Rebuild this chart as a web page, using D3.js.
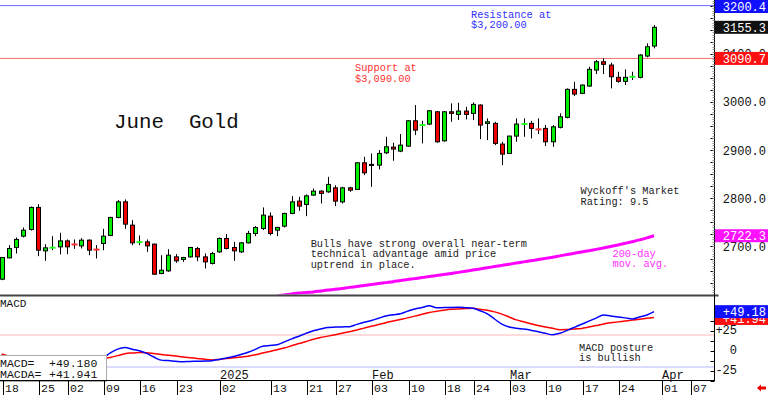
<!DOCTYPE html>
<html><head><meta charset="utf-8">
<script src="https://cdn.jsdelivr.net/npm/d3@7"></script>
<style>html,body{margin:0;padding:0;background:#fff;overflow:hidden}</style>
</head><body><svg id="c" width="768" height="395"></svg>
<script>
// ---- DATA (June Gold daily, index 0 = Nov 18 2024 ... 90 = Mar 31 2025) ----
const opens = [2632.0,2676.3,2697.9,2721.4,2735.3,2781.1,2690.9,2696.5,2699.2,2711.6,
2705.0,2701.2,2713.1,2694.3,2706.2,2722.9,2760.3,2792.7,2744.3,2708.3,
2709.6,2704.8,2643.9,2649.3,2678.4,2673.0,2678.4,2695.8,2678.4,2664.7,
2688.8,2716.6,2697.9,2688.8,2707.5,2727.0,2737.4,2763.0,2733.9,2742.2,
2768.6,2794.2,2787.3,2806.7,2815.0,2813.5,2821.8,2792.7,2821.8,2818.5,
2873.8,2868.4,2869.0,2894.6,2906.4,2898.1,2908.5,2961.1,2951.2,2954.3,
2979.8,2919.5,2979.8,2974.4,2981.3,2976.5,2993.8,2955.7,2955.7,2912.7,
2893.3,2929.3,2953.8,2955.7,2944.0,2945.3,2917.5,2947.4,2968.2,3026.4,
3018.1,3033.3,3066.5,3083.8,3076.9,3051.4,3043.0,3052.0,3051.4,3095.6,3116.4];
const highs = [2678.0,2702.7,2718.7,2739.5,2783.0,2787.9,2704.8,2721.4,2728.3,2714.6,
2714.6,2717.3,2714.6,2702.7,2736.6,2761.5,2796.3,2797.7,2754.7,2722.9,
2714.6,2706.2,2681.9,2694.4,2684.0,2678.4,2699.0,2699.2,2685.4,2688.8,
2718.7,2725.6,2709.6,2709.6,2732.4,2742.2,2781.1,2770.7,2740.8,2770.0,
2804.6,2803.1,2808.1,2820.6,2817.0,2844.7,2827.4,2823.9,2823.9,2874.5,
2886.3,2893.3,2900.2,2927.9,2915.4,2933.5,2962.6,2993.8,2961.1,2983.4,
2981.3,2981.3,2997.3,2998.5,2990.2,2999.4,2995.2,2966.1,2959.0,2917.5,
2930.0,2966.1,2966.1,2961.1,2966.1,2952.2,2952.2,2976.5,3028.5,3042.2,
3036.8,3073.4,3087.3,3090.9,3081.7,3063.0,3068.0,3063.0,3099.2,3122.0,3160.1];
const lows = [2630.0,2675.7,2685.4,2718.7,2733.0,2679.8,2670.1,2692.3,2683.4,2684.0,
2695.0,2695.8,2681.9,2675.0,2692.3,2721.5,2758.2,2736.6,2702.7,2702.7,
2688.8,2642.0,2642.4,2647.2,2665.9,2668.0,2677.0,2669.4,2654.3,2662.6,
2686.7,2693.8,2670.1,2686.7,2706.2,2721.4,2733.9,2722.9,2721.4,2739.5,
2767.0,2774.0,2763.0,2805.2,2789.4,2811.4,2783.8,2789.4,2813.5,2818.0,
2848.2,2823.9,2860.1,2891.9,2878.0,2896.0,2907.1,2931.4,2914.1,2952.2,
2915.4,2917.5,2959.0,2962.6,2964.0,2962.6,2923.1,2921.0,2910.6,2869.0,
2892.0,2917.5,2927.9,2924.5,2933.5,2908.5,2907.1,2945.3,2966.1,3012.5,
3016.6,3031.8,3058.2,3058.2,3028.5,3040.1,3035.3,3045.7,3049.3,3092.9,3111.6];
const closes = [2677.1,2695.8,2714.6,2733.9,2781.1,2692.3,2697.1,2697.5,2711.6,2699.2,
2704.2,2713.1,2692.3,2693.5,2721.4,2760.3,2792.7,2746.4,2707.5,2709.1,
2701.2,2642.4,2650.7,2681.9,2670.1,2677.1,2697.9,2678.4,2668.0,2685.4,
2716.6,2695.8,2690.9,2707.5,2727.0,2739.5,2765.1,2727.0,2739.5,2768.6,
2792.7,2783.8,2805.2,2815.0,2810.2,2828.9,2794.2,2821.8,2817.0,2873.8,
2853.0,2870.5,2893.3,2907.1,2902.3,2910.6,2961.1,2941.8,2952.2,2981.9,
2917.5,2979.8,2976.5,2981.3,2974.4,2995.2,2952.2,2959.0,2914.1,2891.9,
2929.3,2954.3,2954.3,2945.3,2943.2,2917.5,2948.6,2969.4,3026.4,3016.6,
3035.3,3068.0,3083.8,3078.4,3052.6,3043.0,3051.4,3052.6,3097.7,3115.0,3155.3];
const maStart = 38;
const ma200 = [2597.7,2599.4,2601.5,2603.1,2604.6,2605.6,2607.5,2609.4,2611.0,2612.9,
2615.0,2616.8,2618.9,2621.0,2622.9,2624.9,2626.8,2629.1,2631.2,2633.2,
2635.3,2637.6,2639.5,2641.6,2643.9,2646.2,2648.6,2651.1,2653.4,2655.9,
2658.2,2660.7,2663.2,2665.5,2668.0,2670.3,2672.8,2675.3,2677.8,2680.5,
2683.2,2685.9,2688.6,2691.3,2694.0,2696.9,2700.0,2703.2,2706.5,2709.9,
2713.6,2717.8,2722.3];
const macd = [-9.5,-10.0,-10.2,-10.0,-9.5,-8.5,-8.2,-8.6,-9.2,-9.8,
-10.5,-11.0,-11.4,-11.0,-8.5,-2.3,2.3,4.3,2.3,0.3,
-2.9,-7.5,-11.4,-12.0,-12.8,-13.4,-13.1,-12.8,-12.5,-12.1,
-10.6,-8.8,-7.0,-4.3,-1.6,2.0,5.9,6.9,7.8,11.4,
15.1,18.5,22.0,25.4,27.5,29.5,29.9,30.1,30.4,33.3,
35.9,38.1,40.9,43.8,45.3,46.6,49.8,52.6,54.5,56.5,
54.1,54.3,54.5,54.6,54.1,53.4,50.3,46.5,40.0,33.6,
30.1,28.5,27.4,26.0,24.1,22.1,20.3,22.1,25.8,29.6,
33.4,37.3,41.1,45.0,43.8,42.6,41.4,40.1,42.4,45.0,49.18];
const macdSignal = [-3.8,-6.5,-7.6,-8.2,-8.4,-8.4,-8.4,-8.5,-8.7,-8.9,
-9.2,-9.5,-9.8,-10.0,-9.6,-8.0,-5.8,-3.5,-2.5,-1.9,
-2.1,-3.1,-4.3,-5.3,-6.3,-7.4,-8.4,-9.3,-10.3,-11.1,
-10.5,-9.5,-8.5,-7.5,-6.5,-4.8,-2.6,-0.5,1.6,3.8,
6.5,9.3,11.9,14.6,16.9,18.6,20.4,22.3,24.0,26.3,
28.6,30.9,33.1,35.4,37.4,39.4,41.4,43.6,45.9,48.1,
49.6,51.0,52.1,52.6,53.0,53.4,52.1,50.9,48.9,46.1,
42.5,38.9,36.5,34.1,31.9,30.0,28.4,26.6,26.8,27.5,
28.1,29.9,31.8,33.8,35.3,36.4,37.5,38.6,39.8,40.8,41.94];
const priceTicks = [2700,2800,2900,3000,3100];
const macdTicks = [25,0,-25];
const dayTickIdx = [0,5,9,14,19,24,30,37,42,46,51,56,61,65,70,75,80,85,91,95];
const dayTickLabels = ["18","25","02","09","16","23","02","13","21","27","03","10","18","24","03","10","17","24","01","07"];
const monthIdx = [30,51,70,91];
const monthLabels = ["2025","Feb","Mar","Apr"];
const resistance = 3200.4, support = 3090.7, lastClose = 3155.3, lastMA = 2722.3;
const lastMACD = 49.18, lastSignal = 41.94;
const macdText = "+49.180", signalText = "+41.941";

// ---- SCALES ----
const svg = d3.select("#c");
const axisX = 714.5;
const x = d3.scaleLinear().domain([0, 98]).range([1.6, 1.6 + 98 * 7.25]);
const y = d3.scaleLinear().domain([2600, 3200]).range([294.6, 5.8]);
const ym = d3.scaleLinear().domain([-25, 25]).range([371, 331]);
const MONO = "Liberation Mono, DejaVu Sans Mono, monospace";

svg.append("defs").append("clipPath").attr("id", "pc")
  .append("rect").attr("x", 0).attr("y", 0).attr("width", axisX).attr("height", 294.5);
svg.append("defs").append("clipPath").attr("id", "mc")
  .append("rect").attr("x", 0).attr("y", 297).attr("width", axisX).attr("height", 83);

// ---- PRICE PANEL ----
const pg = svg.append("g").attr("clip-path", "url(#pc)");
pg.append("line").attr("x1", 0).attr("x2", axisX).attr("y1", y(resistance)).attr("y2", y(resistance))
  .attr("stroke", "#6a6aff").attr("stroke-width", 1);
pg.append("line").attr("x1", 0).attr("x2", axisX).attr("y1", y(support)).attr("y2", y(support))
  .attr("stroke", "#f07070").attr("stroke-width", 1);

// 200-day MA
const maLine = d3.line().x((d, i) => x(i + maStart)).y(d => y(d)).curve(d3.curveMonotoneX);
pg.append("path").datum(ma200).attr("d", maLine).attr("fill", "none")
  .attr("stroke", "#ff00ff").attr("stroke-width", 3);

// candles
const idx = d3.range(closes.length);
const cg = pg.append("g");
idx.forEach(i => {
  const cx = Math.round(x(i)) + 0.5;
  const o = opens[i], c = closes[i];
  const up = c >= o;
  cg.append("line").attr("x1", cx).attr("x2", cx).attr("y1", y(highs[i])).attr("y2", y(lows[i]))
    .attr("stroke", "#000").attr("stroke-width", 1);
  if (Math.abs(c - o) < 1.5) {
    cg.append("rect").attr("x", cx - 3).attr("y", y(c) - 1).attr("width", 6).attr("height", 2)
      .attr("fill", up ? "#22ff22" : "#ff3030");
  } else {
    const top = y(Math.max(o, c)), bot = y(Math.min(o, c));
    cg.append("rect").attr("x", cx - 2).attr("y", top).attr("width", 4).attr("height", Math.max(1, bot - top))
      .attr("fill", up ? "#00ee00" : "#ee0000").attr("stroke", "#000").attr("stroke-width", 1);
  }
});

// panel separator
svg.append("line").attr("x1", 0).attr("x2", axisX + 4).attr("y1", 295.5).attr("y2", 295.5)
  .attr("stroke", "#444").attr("stroke-width", 2);

// ---- MACD PANEL ----
const mg = svg.append("g").attr("clip-path", "url(#mc)");
mg.append("line").attr("x1", 0).attr("x2", axisX).attr("y1", ym(20)).attr("y2", ym(20))
  .attr("stroke", "#ffb8b8");
mg.append("line").attr("x1", 0).attr("x2", axisX).attr("y1", ym(-20)).attr("y2", ym(-20))
  .attr("stroke", "#b8b8ff");
const ml = d3.line().x((d, i) => x(i)).y(d => ym(d)).curve(d3.curveMonotoneX);
mg.append("path").datum(macdSignal).attr("d", ml).attr("fill", "none").attr("stroke", "#ff0000").attr("stroke-width", 1.5);
mg.append("path").datum(macd).attr("d", ml).attr("fill", "none").attr("stroke", "#0000ff").attr("stroke-width", 1.5);

svg.append("text").attr("x", 0).attr("y", 307).attr("font-family", MONO).attr("font-size", 11)
  .attr("fill", "#111").text("MACD");

// value box
svg.append("rect").attr("x", -1).attr("y", 355.5).attr("width", 107.5).attr("height", 26)
  .attr("fill", "#fff").attr("stroke", "#aaa");
const bt = svg.append("g").attr("font-family", MONO).attr("font-size", 11.5).attr("fill", "#111");
bt.append("text").attr("x", 0).attr("y", 366.5).text("MACD=");
bt.append("text").attr("x", 49).attr("y", 366.5).text(macdText);
bt.append("text").attr("x", 0).attr("y", 377.5).text("MACDA=");
bt.append("text").attr("x", 49).attr("y", 377.5).text(signalText);

// ---- RIGHT AXIS ----
const ax = svg.append("g");
ax.append("line").attr("x1", axisX).attr("x2", axisX).attr("y1", 0).attr("y2", 381).attr("stroke", "#000");
d3.range(2625, 3225, 25).forEach(v => {
  ax.append("line").attr("x1", axisX - 4).attr("x2", axisX).attr("y1", Math.round(y(v)) + 0.5).attr("y2", Math.round(y(v)) + 0.5)
    .attr("stroke", "#000");
});
d3.range(2605, 3215, 5).forEach(v => {
  ax.append("line").attr("x1", axisX - 2).attr("x2", axisX).attr("y1", Math.round(y(v)) + 0.5).attr("y2", Math.round(y(v)) + 0.5)
    .attr("stroke", "#999");
});
d3.range(-37.5, 50, 12.5).forEach(v => {
  ax.append("line").attr("x1", axisX - 4).attr("x2", axisX).attr("y1", Math.round(ym(v)) + 0.5).attr("y2", Math.round(ym(v)) + 0.5)
    .attr("stroke", "#000");
});
const al = svg.append("g").attr("font-family", MONO).attr("font-size", 12).attr("fill", "#111");
priceTicks.forEach(v => {
  al.append("text").attr("x", 766).attr("y", y(v)).attr("dy", "0.36em").attr("text-anchor", "end")
    .text(d3.format(".1f")(v));
});
macdTicks.forEach(v => {
  al.append("text").attr("x", 737).attr("y", ym(v) - 1).attr("dy", "0.36em").attr("text-anchor", "end")
    .text(v > 0 ? "+" + v : String(v));
});

function valueBox(v, yy, color, label) {
  const g = svg.append("g");
  g.append("rect").attr("x", axisX + 0.5).attr("y", yy - 6.5).attr("width", 768 - axisX).attr("height", 13).attr("fill", color);
  g.append("text").attr("x", 766).attr("y", yy).attr("dy", "0.36em").attr("text-anchor", "end")
    .attr("font-family", MONO).attr("font-size", 12).attr("fill", "#fff").text(label);
}
valueBox(resistance, Math.max(6.5, y(resistance)), "#1010ff", d3.format(".1f")(resistance));
valueBox(lastClose, y(lastClose), "#111", d3.format(".1f")(lastClose));
valueBox(support, y(support), "#ff1010", d3.format(".1f")(support));
valueBox(lastMA, y(lastMA), "#ff10ff", d3.format(".1f")(lastMA));
valueBox(lastSignal, ym(lastSignal) + 1, "#ff1010", "+" + d3.format(".2f")(lastSignal));
valueBox(lastMACD, ym(lastMACD), "#1010ff", "+" + d3.format(".2f")(lastMACD));

// ---- DATE AXIS ----
svg.append("line").attr("x1", 0).attr("x2", axisX).attr("y1", 380.5).attr("y2", 380.5).attr("stroke", "#000");
const dg = svg.append("g").attr("font-family", MONO).attr("font-size", 11.5).attr("fill", "#111");
dayTickIdx.forEach((d, i) => {
  const tx = Math.round(x(d)) + 1.5;
  dg.append("line").attr("x1", tx).attr("x2", tx).attr("y1", 380.5).attr("y2", 395).attr("stroke", "#000");
  dg.append("text").attr("x", tx + 1.5).attr("y", 392).text(dayTickLabels[i]);
});
monthIdx.forEach((d, i) => {
  dg.append("text").attr("x", Math.round(x(d)) + 1).attr("y", 379).attr("font-size", 12).text(monthLabels[i]);
});
// red arrow bottom right
svg.append("path").attr("d", "M757,388 L761,384.5 L761,386.5 L766,386.5 L766,389.5 L761,389.5 L761,391.5 Z")
  .attr("fill", "#ee0000");

// ---- ANNOTATIONS ----
const an = svg.append("g").attr("font-family", MONO).attr("font-size", 10.3);
an.append("text").attr("x", 114).attr("y", 128).attr("font-size", 20.8).attr("fill", "#111").attr("xml:space", "preserve").text("June  Gold");
function lines(xx, yy, arr, col) {
  arr.forEach((t, k) => an.append("text").attr("x", xx).attr("y", yy + k * 10.5).attr("fill", col).text(t));
}
lines(471, 17.5, ["Resistance at", "$3,200.00"], "#3030ff");
lines(355, 71, ["Support at", "$3,090.00"], "#ff3030");
lines(580.5, 194, ["Wyckoff's Market", "Rating: 9.5"], "#222");
lines(310.7, 246.5, ["Bulls have strong overall near-term", "technical advantage amid price", "uptrend in place."], "#222");
lines(612.5, 256.5, ["200-day", "mov. avg."], "#ff30ff");
lines(579, 350.5, ["MACD posture", "is bullish"], "#222");
</script>
</body></html>
